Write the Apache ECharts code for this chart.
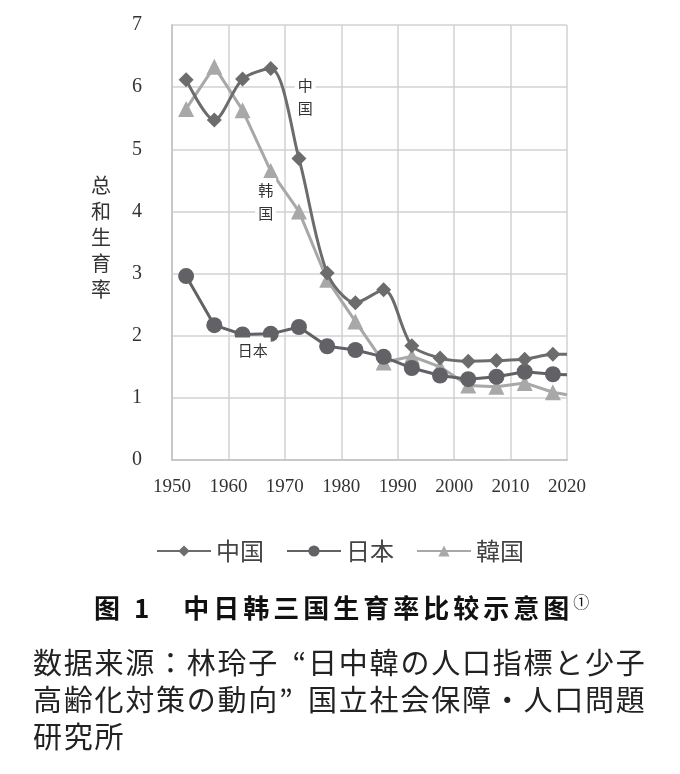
<!DOCTYPE html>
<html>
<head>
<meta charset="utf-8">
<script src="https://cdn.jsdelivr.net/npm/echarts@6/dist/echarts.min.js"></script>
<style>
  html, body { margin: 0; padding: 0; background: #fff; }
  #wrap { position: relative; width: 680px; height: 774px; }
  #main { position: absolute; left: 0; top: 0; width: 680px; height: 774px; }
  #caption {
    position: absolute; left: 94px; top: 589px; white-space: nowrap;
    font-family: 'Noto Sans CJK SC'; font-weight: bold; font-size: 26px;
    letter-spacing: 4px; color: #111; line-height: 36px;
  }
  #caption sup { font-size: 16px; font-weight: normal; letter-spacing: 0; vertical-align: 10px; line-height: 0; }
  #source {
    position: absolute; left: 33px; top: 643px; white-space: nowrap;
    font-family: 'Noto Sans CJK JP'; font-size: 29px;
    color: #222; line-height: 37px;
  }
  .line { display: block; }
  .q { display: inline-block; width: 1em; }
  .ql { text-align: right; }
  .qr { text-align: left; }
</style>
</head>
<body>
<div id="wrap">
  <div id="main"></div>
  <div id="caption">图 1　中日韩三国生育率比较示意图<sup>①</sup></div>
  <div id="source"><span class="line" id="src1">数据来源：林玲子<span class="q ql">“</span>日中韓の人口指標と少子</span><span class="line">高齢化対策の動向<span class="q qr">”</span>国立社会保障・人口問題</span><span class="line">研究所</span></div>
</div>
<script>
// 年份取五年区间中点，最后一点为 2020 年边界（不画标记）
let years = [1952.5, 1957.5, 1962.5, 1967.5, 1972.5, 1977.5, 1982.5, 1987.5, 1992.5, 1997.5, 2002.5, 2007.5, 2012.5, 2017.5, 2020];
let china = [6.12, 5.47, 6.13, 6.30, 4.85, 3.01, 2.53, 2.74, 1.84, 1.64, 1.59, 1.60, 1.62, 1.70, 1.70];
let japan = [2.96, 2.17, 2.02, 2.03, 2.14, 1.83, 1.77, 1.66, 1.48, 1.36, 1.30, 1.34, 1.42, 1.38, 1.37];
let korea = [5.65, 6.33, 5.63, 4.65, 4.00, 2.90, 2.23, 1.57, 1.67, 1.50, 1.20, 1.18, 1.24, 1.09, 1.05];
let xTicks = [1950, 1960, 1970, 1980, 1990, 2000, 2010, 2020];
let seriesNames = ['中国', '日本', '韓国'];

// 资料来源一行约 21 字宽 617px，按实际字宽补字距
let src1 = document.getElementById('src1');
let srcBox = document.getElementById('source');
let inner = document.createRange();
inner.selectNodeContents(src1);
let w = inner.getBoundingClientRect().width;
srcBox.style.letterSpacing = ((617 - w) / 21) + 'px';

function toPairs(vals) {
    return vals.map(function (v, i) {
        let item = { value: [years[i], v] };
        if (i === vals.length - 1) {
            item.symbol = 'none';
        }
        return item;
    });
}

// 图内的国名标注
function tag(text, x, y) {
    return {
        coord: [x, y],
        symbol: 'rect',
        symbolSize: 1,
        itemStyle: { color: 'rgba(0,0,0,0)' },
        label: {
            show: true,
            position: 'inside',
            formatter: text,
            color: '#333',
            fontSize: 15,
            lineHeight: 23,
            fontFamily: 'Noto Sans CJK SC',
            backgroundColor: '#fff',
            padding: [1, 3]
        }
    };
}

let serif = 'Liberation Serif';
let myChart = echarts.init(document.getElementById('main'));

let options = {
    animation: false,
    grid: {
        left: 172,
        right: 113,
        top: 25,
        bottom: 314
    },
    legend: {
        top: 534,
        left: 'center',
        itemWidth: 54,
        itemHeight: 14,
        itemGap: 22,
        textStyle: {
            fontSize: 24,
            color: '#444',
            fontFamily: 'Noto Sans CJK JP'
        },
        data: seriesNames
    },
    xAxis: {
        type: 'value',
        min: 1950,
        max: 2020,
        interval: 10,
        axisLine: { show: true, lineStyle: { color: '#c8c8c8', width: 2 } },
        axisTick: { show: false },
        splitLine: { show: true, lineStyle: { color: '#d2d2d2', width: 1.5 } },
        axisLabel: {
            margin: 18,
            fontSize: 19,
            color: '#333',
            fontFamily: serif,
            formatter: function (v) {
                return xTicks.indexOf(v) >= 0 ? String(v) : '';
            }
        }
    },
    yAxis: {
        type: 'value',
        min: 0,
        max: 7,
        interval: 1,
        axisLine: { show: true, lineStyle: { color: '#c8c8c8', width: 2 } },
        axisTick: { show: false },
        splitLine: { show: true, lineStyle: { color: '#d2d2d2', width: 1.5 } },
        axisLabel: {
            margin: 30,
            fontSize: 20,
            color: '#333',
            fontFamily: serif
        }
    },
    graphic: [
        {
            type: 'text',
            left: 91,
            top: 172,
            style: {
                text: '总\n和\n生\n育\n率',
                fontSize: 20,
                lineHeight: 26,
                fill: '#333',
                fontFamily: 'Noto Sans CJK SC'
            }
        }
    ],
    series: [
        {
            name: seriesNames[0],
            type: 'line',
            smooth: 0.3,
            symbol: 'diamond',
            symbolSize: 15,
            itemStyle: { color: '#6c6c6c' },
            lineStyle: { color: '#6c6c6c', width: 3 },
            data: toPairs(china),
            markPoint: { data: [tag('中\n国', 1973.6, 5.85)] },
            z: 3
        },
        {
            name: seriesNames[1],
            type: 'line',
            symbol: 'circle',
            symbolSize: 16,
            itemStyle: { color: '#626266' },
            lineStyle: { color: '#626266', width: 3 },
            data: toPairs(japan),
            markPoint: { data: [tag('日本', 1964.3, 1.77)] },
            z: 2
        },
        {
            name: seriesNames[2],
            type: 'line',
            symbol: 'triangle',
            symbolSize: 16,
            itemStyle: { color: '#a8a8a8' },
            lineStyle: { color: '#a8a8a8', width: 3 },
            data: toPairs(korea),
            markPoint: { data: [tag('韩\n国', 1966.6, 4.15)] },
            z: 1
        }
    ]
};
myChart.setOption(options);
</script>
</body>
</html>
